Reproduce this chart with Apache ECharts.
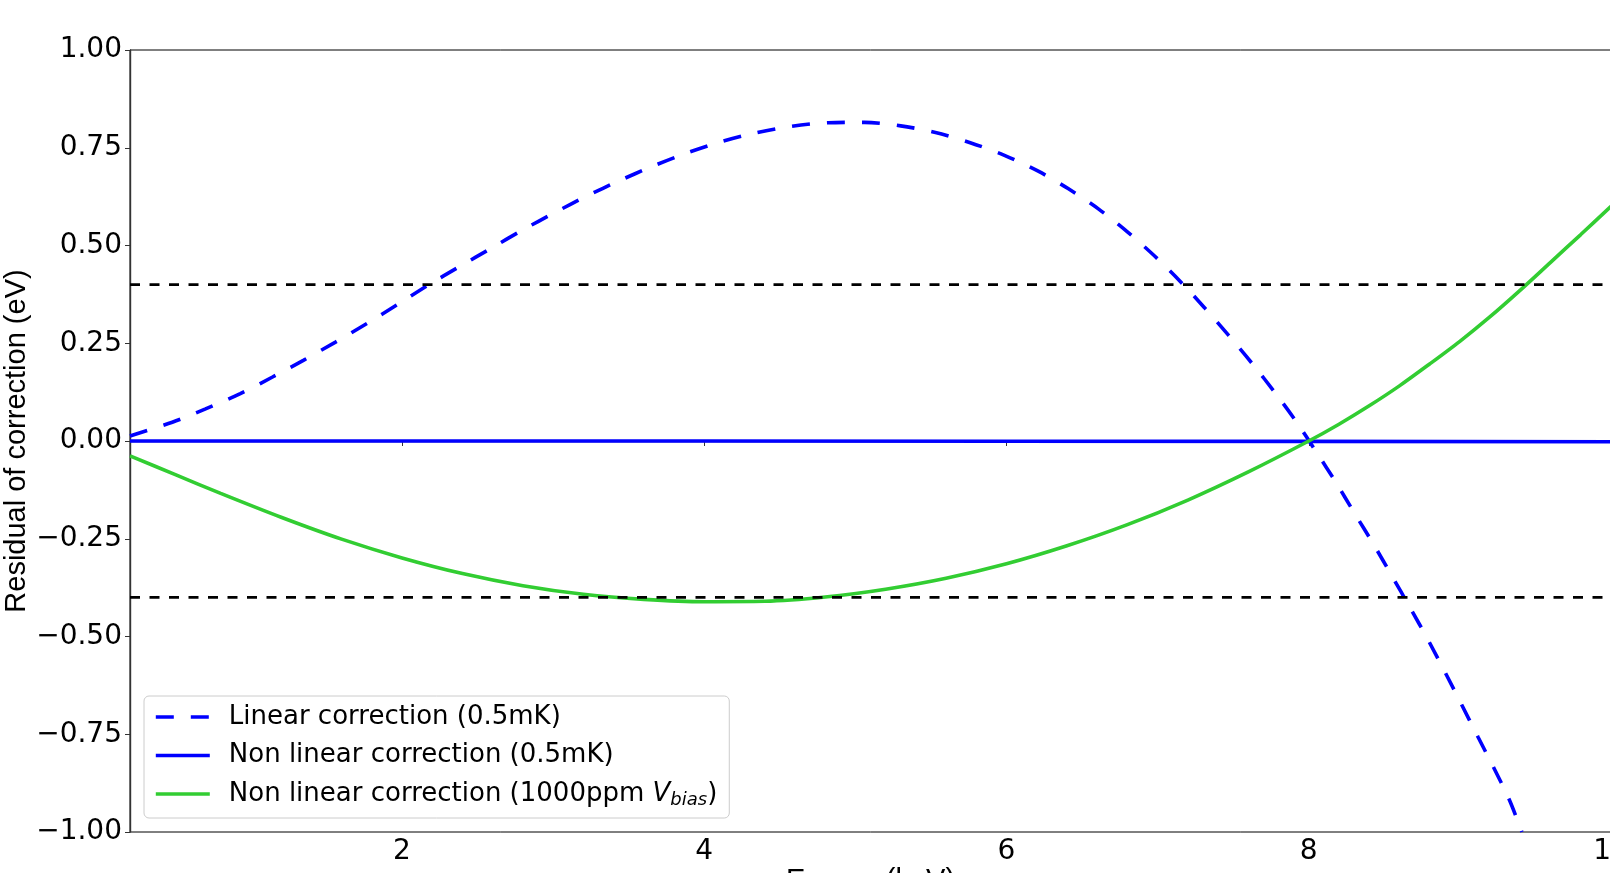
<!DOCTYPE html>
<html><head><meta charset="utf-8">
<script src="https://cdn.jsdelivr.net/npm/echarts@6/dist/echarts.min.js"></script>
<style>html,body{margin:0;padding:0;background:#fff}#c{width:1610px;height:873px}</style>
</head><body><div id="c"></div>
<script>
// ---- data ----
const linearX = [0.20,0.48,0.70,0.93,1.14,1.35,1.56,1.77,1.97,2.17,2.38,2.59,2.79,3.01,3.22,3.44,3.66,3.88,4.10,4.34,4.58,4.82,5.06,5.30,5.53,5.76,5.99,6.21,6.41,6.61,6.80,6.98,7.15,7.31,7.47,7.63,7.78,7.92,8.05,8.18,8.30,8.43,8.55,8.67,8.79,8.90,9.01,9.12,9.23,9.33,9.41];
const linearY = [0.013,0.048,0.082,0.121,0.163,0.207,0.253,0.301,0.349,0.398,0.446,0.493,0.538,0.584,0.626,0.666,0.703,0.736,0.764,0.788,0.805,0.814,0.815,0.806,0.789,0.763,0.730,0.690,0.645,0.593,0.535,0.473,0.408,0.341,0.270,0.196,0.122,0.048,-0.028,-0.106,-0.183,-0.265,-0.345,-0.426,-0.509,-0.590,-0.673,-0.757,-0.840,-0.920,-1.000];
const nonlinX = [0.2,2,4,6,8,10];
const nonlinY = [0.0,0.0,0.0,-0.0005,-0.001,-0.002];
const vbiasX = [0.2,0.5,0.8,1.2,1.6,2.0,2.4,2.8,3.2,3.6,4.0,4.4,4.8,5.2,5.6,6.0,6.4,6.8,7.2,7.6,8.0,8.2,8.4,8.6,8.8,9.0,9.2,9.4,9.6,9.8,10.0];
const vbiasY = [-0.038,-0.086,-0.134,-0.195,-0.251,-0.299,-0.339,-0.370,-0.392,-0.405,-0.411,-0.410,-0.399,-0.379,-0.351,-0.314,-0.268,-0.214,-0.151,-0.079,0.0,0.043,0.090,0.141,0.197,0.255,0.318,0.386,0.457,0.528,0.600];
const thresholdY = [0.4, -0.4];
const xTicks = [2,4,6,8,10];
const yTicks = [-1,-0.75,-0.5,-0.25,0,0.25,0.5,0.75,1];
const names = ['Linear correction (0.5mK)','Non linear correction (0.5mK)','Non linear correction (1000ppm Vbias)'];

const zip = (xs, ys) => xs.map((x, i) => [x, ys[i]]);
const tickFont = 'DejaVu Sans';
const chart = echarts.init(document.getElementById('c'), null, {renderer: 'canvas'});

const series = [
  {name: names[0], type: 'line', data: zip(linearX, linearY), symbol: 'none', smooth: 0.3, clip: true,
   lineStyle: {color: '#0000ff', width: 3.6, type: [18, 17]}, itemStyle: {color: '#0000ff'}},
  {name: names[1], type: 'line', data: zip(nonlinX, nonlinY), symbol: 'none', clip: true,
   lineStyle: {color: '#0000ff', width: 3.6}, itemStyle: {color: '#0000ff'}},
  {name: names[2], type: 'line', data: zip(vbiasX, vbiasY), symbol: 'none', smooth: 0.3, clip: true,
   lineStyle: {color: '#32cd32', width: 3.6}, itemStyle: {color: '#32cd32'}}
];
thresholdY.forEach(t => series.push({
  type: 'line', data: [[0.2, t], [10, t]], symbol: 'none', silent: true,
  lineStyle: {color: '#000', width: 2.6, type: [10, 9.5]}
}));

chart.setOption({
  animation: false,
  backgroundColor: '#fff',
  grid: {left: 130, top: 50, right: -1, bottom: 41, containLabel: false, outerBoundsMode: 'none',
         show: true, borderColor: '#000', borderWidth: 1},
  xAxis: {
    type: 'value', min: 0.2, max: 10,
    name: 'Energy (keV)', nameLocation: 'middle', nameGap: 34, nameMoveOverlap: false,
    nameTextStyle: {fontFamily: 'Liberation Sans', fontSize: 29, color: '#000'},
    axisLine: {show: true, lineStyle: {color: '#555', width: 1.4}},
    axisTick: {show: true, length: 5, customValues: xTicks, lineStyle: {color: '#333', width: 1}},
    axisLabel: {customValues: xTicks, margin: 6, fontFamily: tickFont, fontSize: 28, color: '#000', hideOverlap: false},
    splitLine: {show: false}
  },
  yAxis: {
    type: 'value', min: -1, max: 1, interval: 0.25,
    name: 'Residual of correction (eV)', nameLocation: 'middle', nameGap: 99, nameMoveOverlap: false,
    nameTextStyle: {fontFamily: 'Liberation Sans', fontSize: 29, color: '#000'},
    axisLine: {show: true, lineStyle: {color: '#333', width: 1.4}},
    axisTick: {show: true, length: 5, lineStyle: {color: '#333', width: 1}},
    axisLabel: {margin: 8, fontFamily: tickFont, fontSize: 28, color: '#000',
      formatter: v => (v < 0 ? '\u2212' : '') + Math.abs(v).toFixed(2)},
    splitLine: {show: false}
  },
  legend: {
    data: names, orient: 'vertical', left: 144, top: 696,
    padding: [6, 12, 9, 10], itemWidth: 54, itemHeight: 14, itemGap: 8.5,
    borderColor: '#cccccc', borderWidth: 1, borderRadius: 5,
    backgroundColor: 'rgba(255,255,255,0.8)',
    itemStyle: {opacity: 0, borderWidth: 0},
    lineStyle: {width: 3.6},
    textStyle: {
      fontFamily: tickFont, fontSize: 26, color: '#000', lineHeight: 30, padding: [0, 0, 0, 14],
      rich: {
        t: {fontFamily: tickFont, fontSize: 26, color: '#000', lineHeight: 30},
        v: {fontFamily: tickFont, fontSize: 26, fontStyle: 'italic', color: '#000', lineHeight: 30},
        b: {fontFamily: tickFont, fontSize: 18, fontStyle: 'italic', color: '#000', lineHeight: 18, padding: [12, 0, 0, 0]}
      }
    },
    formatter: n => n === names[2] ? '{t|Non linear correction (1000ppm }{v|V}{b|bias}{t|)}' : n
  },
  series: series
});
</script></body></html>
